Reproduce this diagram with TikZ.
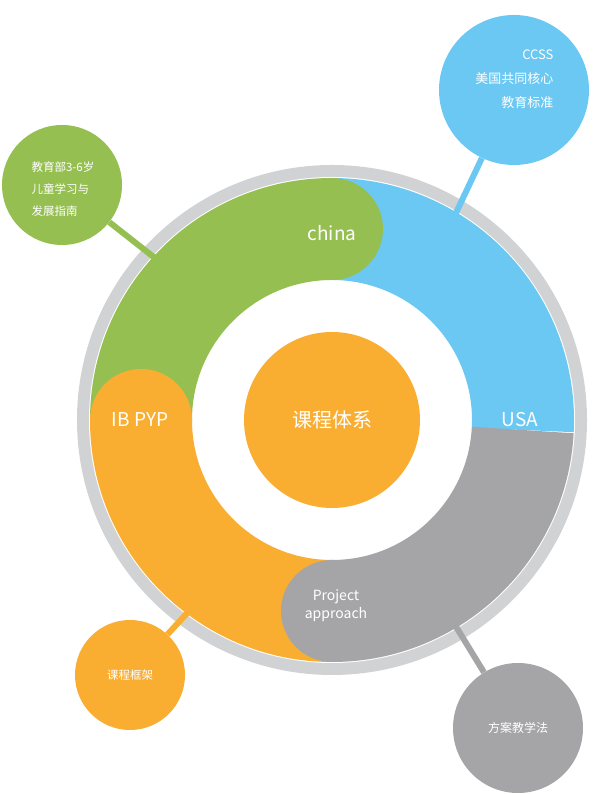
\documentclass[tikz,border=0pt]{standalone}
\usepackage{fontspec}
\setmainfont{Noto Sans CJK SC}
\usepackage{tikz}
\definecolor{cngreen}{HTML}{96BF52}
\definecolor{usblue}{HTML}{6BC8F2}
\definecolor{iborange}{HTML}{F9AE32}
\definecolor{prgray}{HTML}{A5A5A7}
\definecolor{ringgray}{HTML}{D1D2D4}
\tikzset{
  band/.style={line width=102pt},
  label/.style={text=white, align=center, font=\fontsize{19}{22}\selectfont},
  sat/.style={circle, inner sep=0pt, text=white, font=\fontsize{13}{24}\selectfont},
  link/.style={line width=6pt}
}
\begin{document}
\begin{tikzpicture}[x=1pt,y=1pt]
  \useasboundingbox (0,0) rectangle (600,794);
  \coordinate (c) at (332,374);
  % outer ring
  \fill[ringgray] (c) circle (255);
  \fill[white] (c) circle (243);
  % connectors
  \node[sat, fill=usblue, minimum size=150pt] (ccss) at (514,704) {};
  \node[sat, fill=cngreen, minimum size=120pt] (moe) at (62,609) {};
  \node[sat, fill=iborange, minimum size=110pt] (frame) at (130,119) {};
  \node[sat, fill=prgray, minimum size=130pt] (method) at (518,66) {};
  \coordinate (p_ccss) at (455,579);
  \coordinate (p_moe) at (160,532);
  \coordinate (p_frame) at (190,184);
  \coordinate (p_method) at (455,169);
  \draw[link, usblue] (ccss) -- (p_ccss);
  \draw[link, cngreen] (moe) -- (p_moe);
  \draw[link, iborange] (frame) -- (p_frame);
  \draw[link, prgray] (method) -- (p_method);
  % bands
  \draw[band, usblue] ([shift={(90:191)}]c) arc (90:-3:191);
  \draw[band, prgray] ([shift={(-3:191)}]c) arc (-3:-90:191);
  \draw[band, iborange] ([shift={(-90:191)}]c) arc (-90:-180:191);
  \draw[band, cngreen] ([shift={(180:191)}]c) arc (180:90:191);
  % caps
  \fill[cngreen] ([shift={(90:191)}]c) circle (51);
  \fill[iborange] ([shift={(180:191)}]c) circle (51);
  \fill[prgray] ([shift={(-90:191)}]c) circle (51);
  \fill[iborange] (c) circle (88);
  % labels
  \node[label] (china) at (332,561) {china};
  \node[label] (usa) at (520,374) {USA};
  \node[label] (ibpyp) at (140,374) {IB PYP};
  \node[label, font=\fontsize{14}{18}\selectfont] (proj) at (336,188) {Project\\approach};
  \node[label, font=\fontsize{20}{24}\selectfont] (core) at (c) {课程体系};
  \node[text=white, align=right, font=\fontsize{13}{24}\selectfont, anchor=east] at (557,715) {CCSS\\美国共同核心\\教育标准};
  \node[text=white, align=left, font=\fontsize{11.5}{22}\selectfont, anchor=west] at (28,605) {教育部3-6岁\\儿童学习与\\发展指南};
  \node[text=white, font=\fontsize{11.5}{14}\selectfont] at (frame) {课程框架};
  \node[text=white, font=\fontsize{12}{14}\selectfont] at (method) {方案教学法};
\end{tikzpicture}
\end{document}
